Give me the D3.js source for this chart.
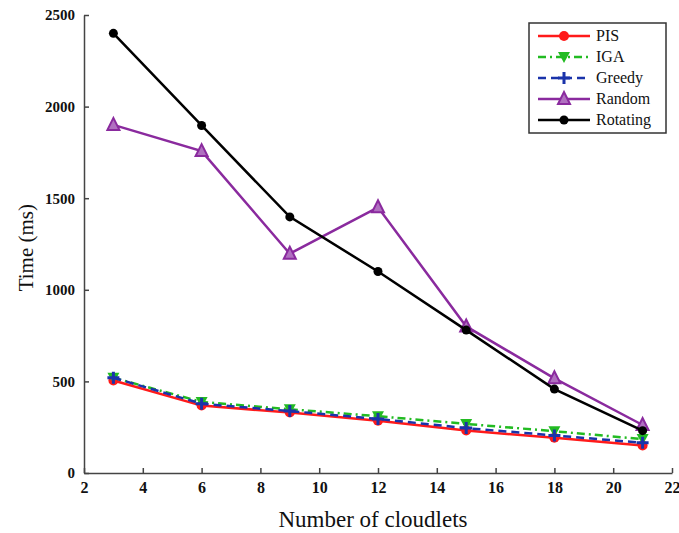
<!DOCTYPE html>
<html>
<head>
<meta charset="utf-8">
<script src="https://cdn.jsdelivr.net/npm/d3@7"></script>
</head>
<body style="margin:0; background:#fff">
<svg id="chart" width="679" height="533"></svg>
<script>
// data
const cloudlets = [3, 6, 9, 12, 15, 18, 21];
const pis      = [505, 368, 330, 285, 232, 192, 150];
const iga      = [520, 388, 348, 310, 268, 228, 185];
const greedy   = [520, 378, 338, 295, 245, 205, 165];
const random   = [1900, 1757, 1197, 1450, 800, 517, 262];
const rotating = [2400, 1897, 1398, 1100, 780, 458, 231];
const xTicks = [2, 4, 6, 8, 10, 12, 14, 16, 18, 20, 22];
const yTicks = [0, 500, 1000, 1500, 2000, 2500];

const series = [
    {name: 'PIS', values: pis, color: '#ff1a1a', dash: null, marker: 'circle'},
    {name: 'IGA', values: iga, color: '#22bb22', dash: '8,4,2,4', marker: 'down'},
    {name: 'Greedy', values: greedy, color: '#1a33aa', dash: '8,5', marker: 'plus'},
    {name: 'Random', values: random, color: '#8a2a9e', dash: null, marker: 'up'},
    {name: 'Rotating', values: rotating, color: '#000000', dash: null, marker: 'dot'}
];

const FONT = 'Liberation Serif';

const svg = d3.select('#chart').attr('font-family', FONT);
const margin = {left: 84, top: 15, right: 7, bottom: 60};
const width = 672 - margin.left;
const height = 473 - margin.top;

const chart = svg.append('g')
    .attr('transform', `translate(${margin.left},${margin.top})`);

const xScale = d3.scaleLinear().domain([2, 22]).range([0, width]);
const yScale = d3.scaleLinear().domain([0, 2500]).range([height, 0]);

// axes, ticks pointing inwards like the original
const xAxis = d3.axisBottom(xScale).tickValues(xTicks).tickFormat(d3.format('d'))
    .tickSizeInner(-5).tickSizeOuter(0).tickPadding(9);
const yAxis = d3.axisLeft(yScale).tickValues(yTicks).tickFormat(d3.format('d'))
    .tickSizeInner(-5).tickSizeOuter(0).tickPadding(9);

function styleAxis(g, size) {
    g.attr('font-family', FONT).attr('font-size', size);
    g.selectAll('text')
        .attr('font-family', FONT)
        .attr('font-size', size)
        .attr('font-weight', 'bold')
        .attr('fill', '#111');
    g.selectAll('line, path').attr('stroke', '#444').attr('stroke-width', 1.5);
}

chart.append('g')
    .attr('transform', `translate(0,${height})`)
    .call(xAxis)
    .call(styleAxis, 16);

chart.append('g')
    .call(yAxis)
    .call(styleAxis, 15);

// axis titles
svg.append('text')
    .attr('x', margin.left + xScale(12) - 5)
    .attr('y', 527)
    .attr('text-anchor', 'middle')
    .attr('font-family', FONT)
    .attr('font-size', 23)
    .attr('fill', '#111')
    .text('Number of cloudlets');

svg.append('text')
    .attr('transform', `translate(33,${margin.top + yScale(1230)}) rotate(-90)`)
    .attr('text-anchor', 'middle')
    .attr('font-family', FONT)
    .attr('font-size', 21)
    .attr('fill', '#111')
    .text('Time (ms)');

const line = d3.line()
    .x((d, i) => xScale(cloudlets[i]))
    .y(d => yScale(d));

function drawMarker(g, s, x, y) {
    if (s.marker === 'circle') {
        g.append('circle').attr('cx', x).attr('cy', y).attr('r', 5).attr('fill', s.color);
    } else if (s.marker === 'dot') {
        g.append('circle').attr('cx', x).attr('cy', y).attr('r', 4.5).attr('fill', s.color);
    } else if (s.marker === 'down') {
        g.append('path')
            .attr('d', `M${x - 6},${y - 5}L${x + 6},${y - 5}L${x},${y + 6}Z`)
            .attr('fill', s.color);
    } else if (s.marker === 'up') {
        g.append('path')
            .attr('d', `M${x - 6},${y + 5}L${x + 6},${y + 5}L${x},${y - 7}Z`)
            .attr('fill', '#b070c0').attr('stroke', s.color).attr('stroke-width', 2);
    } else if (s.marker === 'plus') {
        g.append('path')
            .attr('d', `M${x - 6},${y}L${x + 6},${y}M${x},${y - 6}L${x},${y + 6}`)
            .attr('stroke', s.color).attr('stroke-width', 3);
    }
}

series.forEach(s => {
    const g = chart.append('g');
    g.append('path')
        .datum(s.values)
        .attr('d', line)
        .attr('fill', 'none')
        .attr('stroke', s.color)
        .attr('stroke-width', 2.5)
        .attr('stroke-dasharray', s.dash);
    s.values.forEach((v, i) => drawMarker(g, s, xScale(cloudlets[i]), yScale(v)));
});

// legend
const legend = svg.append('g').attr('transform', 'translate(529,23)');
legend.append('rect')
    .attr('width', 137).attr('height', 110)
    .attr('fill', '#fff').attr('stroke', '#333').attr('stroke-width', 1.5);

series.forEach((s, i) => {
    const y = 13 + i * 21;
    const row = legend.append('g');
    row.append('line')
        .attr('x1', 9).attr('x2', 61).attr('y1', y).attr('y2', y)
        .attr('stroke', s.color).attr('stroke-width', 2.5)
        .attr('stroke-dasharray', s.dash);
    drawMarker(row, s, 35, y);
    row.append('text')
        .attr('x', 67).attr('y', y + 5)
        .attr('font-family', FONT)
        .attr('font-size', 16)
        .attr('fill', '#111')
        .text(s.name);
});
</script>
</body>
</html>
